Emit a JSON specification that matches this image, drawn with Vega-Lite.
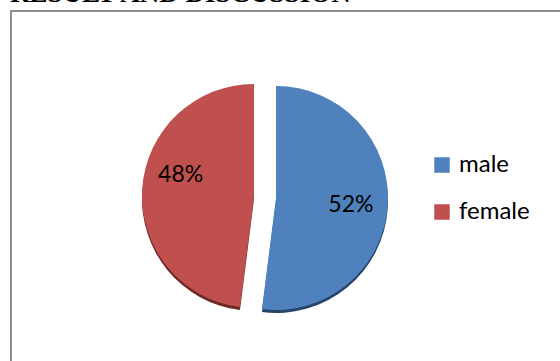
{
  "$schema": "https://vega.github.io/schema/vega-lite/v6.json",
  "width": 551,
  "height": 352,
  "autosize": {"type": "none"},
  "padding": {"left": 11, "top": 11, "right": -2, "bottom": -2},
  "background": "white",
  "view": {"stroke": "#8c8c8c", "strokeWidth": 2, "fill": "white"},
  "title": {
    "text": "RESULT AND DISCUSSION",
    "anchor": "start",
    "font": "Liberation Serif",
    "fontSize": 27,
    "fontWeight": "bold",
    "color": "black",
    "baseline": "alphabetic",
    "offset": -18,
    "dx": -1
  },
  "config": {
    "legend": {
      "orient": "none",
      "legendX": 419,
      "legendY": 142,
      "title": null,
      "padding": 0,
      "symbolType": "square",
      "symbolSize": 240,
      "symbolStrokeWidth": 0,
      "symbolOpacity": 1,
      "labelFont": "Lato",
      "labelFontSize": 24,
      "labelColor": "black",
      "labelOffset": 5,
      "rowPadding": 23
    }
  },
  "data": {
    "values": [
      {"gender": "male", "pct": 52},
      {"gender": "female", "pct": 48}
    ]
  },
  "transform": [
    {"stack": "pct", "groupby": [], "as": ["start", "end"], "sort": [{"field": "gender", "order": "descending"}]},
    {"calculate": "(datum.start + datum.end) / 2", "as": "mid"},
    {"calculate": "datum.pct + '%'", "as": "label"}
  ],
  "layer": [
    {
      "transform": [{"filter": "datum.gender === 'male'"}],
      "mark": {"type": "arc", "outerRadius": 112, "xOffset": -10.5, "yOffset": 14, "color": "#26456b"},
      "encoding": {
        "theta": {"field": "start", "type": "quantitative", "scale": {"domain": [0, 100]}},
        "theta2": {"field": "end"}
      }
    },
    {
      "transform": [{"filter": "datum.gender === 'female'"}],
      "mark": {"type": "arc", "outerRadius": 112, "xOffset": -32.5, "yOffset": 12, "color": "#6e2826"},
      "encoding": {
        "theta": {"field": "start", "type": "quantitative", "scale": {"domain": [0, 100]}},
        "theta2": {"field": "end"}
      }
    },
    {
      "transform": [{"filter": "datum.gender === 'male'"}],
      "mark": {"type": "arc", "outerRadius": 112, "xOffset": -10.5, "yOffset": 11},
      "encoding": {
        "theta": {"field": "start", "type": "quantitative", "scale": {"domain": [0, 100]}},
        "theta2": {"field": "end"},
        "color": {"field": "gender", "type": "nominal", "scale": {"domain": ["male", "female"], "range": ["#4F81BD", "#C0504D"]}}
      }
    },
    {
      "transform": [{"filter": "datum.gender === 'female'"}],
      "mark": {"type": "arc", "outerRadius": 112, "xOffset": -32.5, "yOffset": 9},
      "encoding": {
        "theta": {"field": "start", "type": "quantitative", "scale": {"domain": [0, 100]}},
        "theta2": {"field": "end"},
        "color": {"field": "gender", "type": "nominal", "scale": {"domain": ["male", "female"], "range": ["#4F81BD", "#C0504D"]}}
      }
    },
    {
      "transform": [{"filter": "datum.gender === 'male'"}],
      "mark": {"type": "text", "radius": 76, "xOffset": -11.5, "yOffset": 13, "font": "Lato", "fontSize": 23, "color": "black", "align": "center", "baseline": "middle"},
      "encoding": {
        "theta": {"field": "mid", "type": "quantitative", "scale": {"domain": [0, 100]}},
        "text": {"field": "label"}
      }
    },
    {
      "transform": [{"filter": "datum.gender === 'female'"}],
      "mark": {"type": "text", "radius": 76, "xOffset": -30, "yOffset": -7.5, "font": "Lato", "fontSize": 23, "color": "black", "align": "center", "baseline": "middle"},
      "encoding": {
        "theta": {"field": "mid", "type": "quantitative", "scale": {"domain": [0, 100]}},
        "text": {"field": "label"}
      }
    }
  ]
}
